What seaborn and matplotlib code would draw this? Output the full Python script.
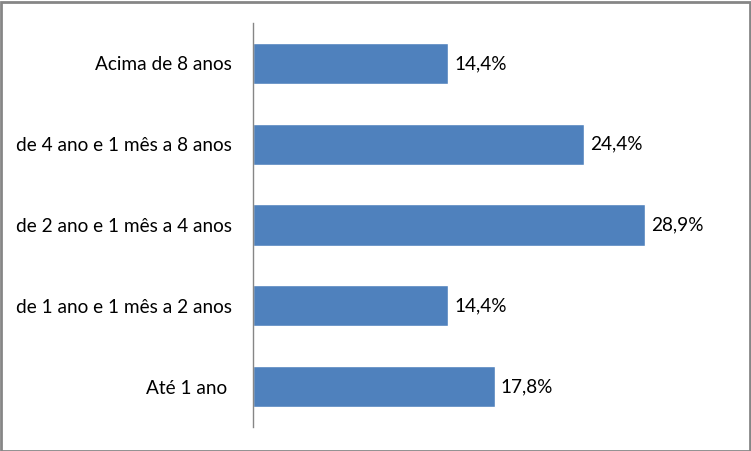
import matplotlib
matplotlib.use("Agg")
import matplotlib.pyplot as plt
import seaborn as sns
import pandas as pd

categories = ["Acima de 8 anos", "de 4 ano e 1 mês a 8 anos", "de 2 ano e 1 mês a 4 anos",
              "de 1 ano e 1 mês a 2 anos", "Até 1 ano "]
values = [14.4, 24.4, 28.9, 14.4, 17.8]
labels = ["14,4%", "24,4%", "28,9%", "14,4%", "17,8%"]

sns.set_theme(style="white")
plt.rcParams['font.family'] = ['Lato', 'DejaVu Sans']

df = pd.DataFrame({"cat": categories, "val": values})

fig = plt.figure(figsize=(7.51, 4.51), dpi=100)
ax = fig.add_axes([253/751, 24/451, (724-253)/751, (428-24)/451])
sns.barplot(data=df, x="val", y="cat", orient="h", color="#4F81BD",
            saturation=1, width=0.51, ax=ax)
ax.set_xlim(0, 34.7)
ax.set_xlabel("")
ax.set_ylabel("")
ax.set_xticks([])
for s in ["top", "right", "bottom"]:
    ax.spines[s].set_visible(False)
ax.spines["left"].set_color("#868686")
ax.spines["left"].set_linewidth(1)
ax.tick_params(axis="y", length=0, pad=15, labelsize=13.7, labelcolor="black")
for i, (v, t) in enumerate(zip(values, labels)):
    ax.annotate(t, (v, i), xytext=(4, 0), textcoords="offset points",
                va="center", ha="left", fontsize=13.7, color="black")

fig.patches.append(plt.Rectangle((0.5/751, 0.5/451), 1 - 2/751, 1 - 2/451,
                                 transform=fig.transFigure, fill=False,
                                 edgecolor="#868686", linewidth=2))
fig.savefig("out.png", dpi=100)
